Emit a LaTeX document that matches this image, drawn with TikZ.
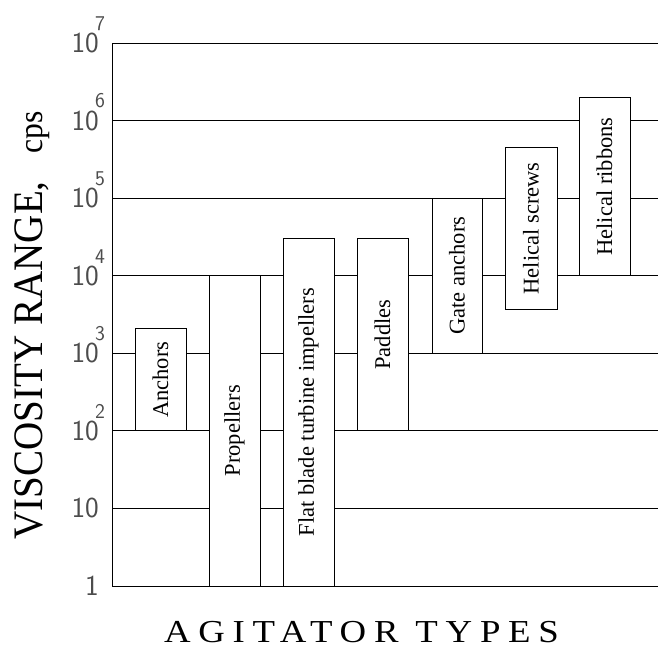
\documentclass[tikz,border=0pt]{standalone}
\usepackage{fontspec}
\setmainfont{Liberation Serif}
\usepackage{tikz}
\tikzset{
    grid line/.style={line width=0.8pt},
    bar/.style={draw, line width=0.8pt, fill=white},
    bar label/.style={rotate=90, inner sep=0pt, font=\fontsize{22.5}{24}\selectfont},
    decade/.style={anchor=east, inner sep=0pt, text=black!70, font=\sffamily\fontsize{29}{29}\selectfont},
    power/.style={anchor=south west, inner sep=0pt, text=black!70, font=\sffamily\fontsize{21}{21}\selectfont},
}

\begin{document}
\begin{tikzpicture}[x=1pt, y=77.57pt]
    \useasboundingbox (0,-0.786) rectangle (658,7.554);
    % decades of viscosity
    \foreach \k in {0,...,7}
        \draw[grid line] (112,\k) -- (658,\k);
    \draw[grid line] (112,0) -- (112,7);
    \node[decade] (d0) at (99,0) {1};
    \node[decade] (d1) at (99,1) {10};
    \foreach \k in {2,...,7}{
        \node[decade] (d\k) at (99,\k) {10};
        \node[power] (p\k) at ([xshift=-4pt,yshift=2pt]d\k.north east) {\k};
    }
    % agitators
    \draw[bar] (135,2) rectangle (186,3.32) node[bar label, midway] (anchors) {Anchors};
    \draw[bar] (209,0) rectangle (260,4) node[bar label, midway] (propellers) {Propellers};
    \draw[bar] (283,0) rectangle (334,4.48) node[bar label, midway] (turbine) {Flat blade turbine impellers};
    \draw[bar] (357,2) rectangle (408,4.48) node[bar label, midway] (paddles) {Paddles};
    \draw[bar] (432,3) rectangle (482,5) node[bar label, midway] (gate) {Gate anchors};
    \draw[bar] (505,3.57) rectangle (557,5.65) node[bar label, midway] (screws) {Helical screws};
    \draw[bar] (579,4) rectangle (630,6.3) node[bar label, midway] (ribbons) {Helical ribbons};
    % axis titles
    \node[rotate=90, xscale=0.93, anchor=base, inner sep=0pt, font=\fontsize{42}{42}\selectfont] (ytitle) at (42,3.36)
        {VISCOSITY RANGE,\hspace{30pt}{\fontsize{34}{34}\selectfont cps}};
    \node[xscale=1.15, anchor=base, inner sep=0pt, font=\fontsize{32}{32}\selectfont\addfontfeatures{LetterSpace=21}] (xtitle) at (361.5,-0.735)
        {AGITATOR TYPES};
\end{tikzpicture}
\end{document}
